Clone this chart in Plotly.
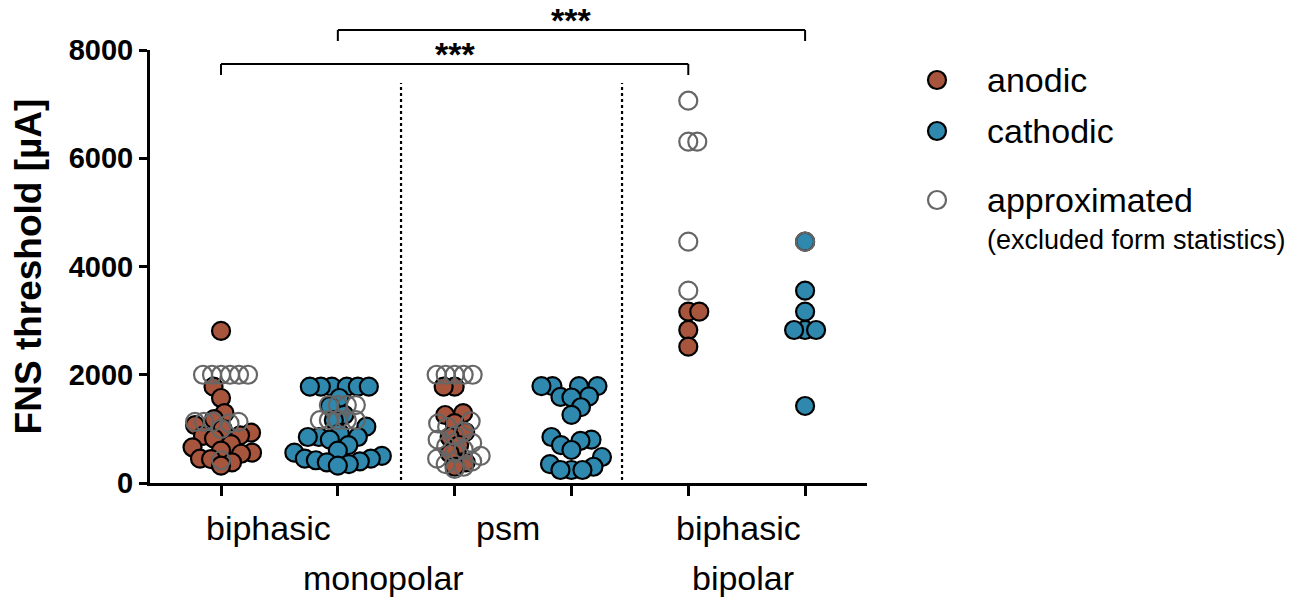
import plotly.graph_objects as go

# ---------------- data ----------------
group_pos = [1, 2, 3, 4, 5, 6]

mono_bi_anodic = [2810, 1780, 1570, 1290, 1180, 1070, 1000, 930, 880, 870, 820, 720,
                  660, 600, 560, 540, 450, 440, 380, 320]
mono_bi_approx = [2000, 2000, 2000, 2000, 2000, 2000, 1130, 1130, 1130, 1130, 1100, 1000, 420]

mono_bi_cathodic = [1780, 1780, 1780, 1780, 1780, 1780, 1570, 1420, 1260, 1160, 1040, 920,
                    850, 850, 850, 800, 700, 600, 560, 500, 450, 450, 420, 400, 380, 350, 320]
mono_bi_cath_approx = [1440, 1440, 1440, 1440, 1160, 1160, 1160, 1160, 1160]

psm_anodic = [1780, 1780, 1290, 1256, 1108, 942, 850, 702, 550, 380, 300]
psm_an_approx = [2000, 2000, 2000, 2000, 2000, 1140, 1100, 1035, 950, 870, 800, 740,
                 680, 620, 560, 500, 450, 400, 350, 300, 260]

psm_cathodic = [1790, 1790, 1790, 1790, 1600, 1590, 1580, 1400, 1260, 850, 800, 780,
                700, 610, 480, 350, 300, 240, 240, 240]

bip_anodic = [3165, 3165, 2827, 2518]
bip_an_approx = [7063, 6306, 6306, 4458, 3553]

bip_cathodic = [4458, 3553, 3165, 2827, 2827, 2827, 1423]
bip_cath_approx = [4458]

y_ticks = [0, 2000, 4000, 6000, 8000]
cat_labels = ["biphasic", "psm", "biphasic"]
cat_label_x = [1.41, 3.46, 5.43]
mode_labels = ["monopolar", "bipolar"]
mode_label_x = [2.39, 5.47]
legend_labels = ["anodic", "cathodic", "approximated"]
legend_note = "(excluded form statistics)"

ANODIC = "#A8553D"
CATHODIC = "#2F88AD"
GREY = "#666666"
FONT = "Liberation Sans, Arial, Helvetica, sans-serif"

# plot geometry (pixels) used for spreading the points horizontally
PLOT_W, PLOT_H = 717, 433
X_RANGE = [0.392, 6.53]
Y_RANGE = [0, 8000]
px_per_x = PLOT_W / (X_RANGE[1] - X_RANGE[0])
px_per_y = PLOT_H / (Y_RANGE[1] - Y_RANGE[0])


def spread(values, center, ax=11.0, ay=15.0):
    """Greedy beeswarm with an elliptical collision zone (pixel units)."""
    order = sorted(range(len(values)), key=lambda i: values[i])
    placed = []
    xs = [center] * len(values)
    side = 1
    for i in order:
        yp = values[i] * px_per_y
        chosen = None
        k = 0
        while chosen is None:
            cands = [0.0] if k == 0 else [side * k * 0.5, -side * k * 0.5]
            for off in cands:
                if all(((off - px) / ax) ** 2 + ((yp - py) / ay) ** 2 >= 1 for px, py in placed):
                    chosen = off
                    break
            k += 1
        if chosen != 0:
            side = -1 if chosen > 0 else 1
        placed.append((chosen, yp))
        xs[i] = center + chosen / px_per_x
    return xs


fig = go.Figure()

filled_sets = [
    (mono_bi_anodic, group_pos[0], ANODIC),
    (mono_bi_cathodic, group_pos[1], CATHODIC),
    (psm_anodic, group_pos[2], ANODIC),
    (psm_cathodic, group_pos[3], CATHODIC),
    (bip_anodic, group_pos[4], ANODIC),
    (bip_cathodic, group_pos[5], CATHODIC),
]
open_sets = [
    (mono_bi_approx, group_pos[0]),
    (mono_bi_cath_approx, group_pos[1]),
    (psm_an_approx, group_pos[2]),
    (bip_an_approx, group_pos[4]),
    (bip_cath_approx, group_pos[5]),
]

for vals, c, col in filled_sets:
    fig.add_trace(go.Scatter(
        x=spread(vals, c), y=vals, mode="markers", showlegend=False,
        marker=dict(size=18, color=col, line=dict(color="black", width=2.2)),
        cliponaxis=False, hoverinfo="y"))

for vals, c in open_sets:
    fig.add_trace(go.Scatter(
        x=spread(vals, c, ax=9.0, ay=15.0), y=vals, mode="markers", showlegend=False,
        marker=dict(size=18, symbol="circle-open", color=GREY, line=dict(color=GREY, width=2.2)),
        cliponaxis=False, hoverinfo="y"))

shapes = []
# dotted separators
for xv in [2.541, 4.433]:
    shapes.append(dict(type="line", xref="x", yref="y", x0=xv, x1=xv, y0=55, y1=7390,
                       line=dict(color="black", width=2.2, dash="dot")))

# significance brackets
def bracket(x0, x1, ytop, ybot):
    return [
        dict(type="line", xref="x", yref="paper", x0=x0, x1=x1, y0=ytop, y1=ytop,
             line=dict(color="black", width=2)),
        dict(type="line", xref="x", yref="paper", x0=x0, x1=x0, y0=ytop, y1=ybot,
             line=dict(color="black", width=2)),
        dict(type="line", xref="x", yref="paper", x0=x1, x1=x1, y0=ytop, y1=ybot,
             line=dict(color="black", width=2)),
    ]

shapes += bracket(1, 5, 0.9677, 0.9423)
shapes += bracket(2, 6, 1.0462, 1.0208)

annotations = [
    dict(text="<b>***</b>", x=3, y=0.990, xref="x", yref="paper", showarrow=False,
         font=dict(size=34, family=FONT, color="black"), xanchor="center", yanchor="middle"),
    dict(text="<b>***</b>", x=4, y=1.069, xref="x", yref="paper", showarrow=False,
         font=dict(size=34, family=FONT, color="black"), xanchor="center", yanchor="middle"),
]
for t, xv in zip(cat_labels, cat_label_x):
    annotations.append(dict(text=t, x=xv, y=-0.104, xref="x", yref="paper", showarrow=False,
                            font=dict(size=34, family=FONT, color="black"),
                            xanchor="center", yanchor="middle"))
for t, xv in zip(mode_labels, mode_label_x):
    annotations.append(dict(text=t, x=xv, y=-0.219, xref="x", yref="paper", showarrow=False,
                            font=dict(size=34, family=FONT, color="black"),
                            xanchor="center", yanchor="middle"))

# legend (manual)
def px2paper(px, py):
    return (px - 150) / PLOT_W, (483 - py) / PLOT_H

leg_rows = [(80, ANODIC, "black"), (131, CATHODIC, "black"), (200, "rgba(0,0,0,0)", GREY)]
for (py, fill, edge), label in zip(leg_rows, legend_labels):
    mx, my = px2paper(937, py)
    shapes.append(dict(type="circle", xref="paper", yref="paper", xsizemode="pixel",
                       ysizemode="pixel", xanchor=mx, yanchor=my, x0=-9, x1=9, y0=-9, y1=9,
                       fillcolor=fill, line=dict(color=edge, width=2.2)))
    tx, ty = px2paper(985, py)
    annotations.append(dict(text=label, x=tx, y=ty, xref="paper", yref="paper",
                            showarrow=False, xanchor="left", yanchor="middle",
                            font=dict(size=34, family=FONT, color="black")))
tx, ty = px2paper(985, 240)
annotations.append(dict(text=legend_note, x=tx, y=ty, xref="paper", yref="paper",
                        showarrow=False, xanchor="left", yanchor="middle",
                        font=dict(size=27, family=FONT, color="black")))

fig.update_layout(
    width=1311, height=599,
    margin=dict(l=150, r=444, t=50, b=116),
    plot_bgcolor="white", paper_bgcolor="white",
    font=dict(family=FONT, color="black"),
    shapes=shapes, annotations=annotations,
    xaxis=dict(range=X_RANGE, tickvals=group_pos, ticktext=[""] * 6, showgrid=False,
               zeroline=False, showline=True, linecolor="black", linewidth=3,
               ticks="outside", ticklen=10, tickwidth=3, tickcolor="black"),
    yaxis=dict(range=Y_RANGE, tickvals=y_ticks, ticktext=[str(v) for v in y_ticks],
               showgrid=False, zeroline=False, showline=True, linecolor="black",
               linewidth=3, ticks="outside", ticklen=8, tickwidth=3, tickcolor="black",
               tickfont=dict(size=29, family=FONT, color="black", weight="bold"),
               title=dict(text="<b>FNS threshold [µA]</b>", standoff=16,
                          font=dict(size=37, family=FONT, color="black"))),
)

fig.write_html("out.html")
